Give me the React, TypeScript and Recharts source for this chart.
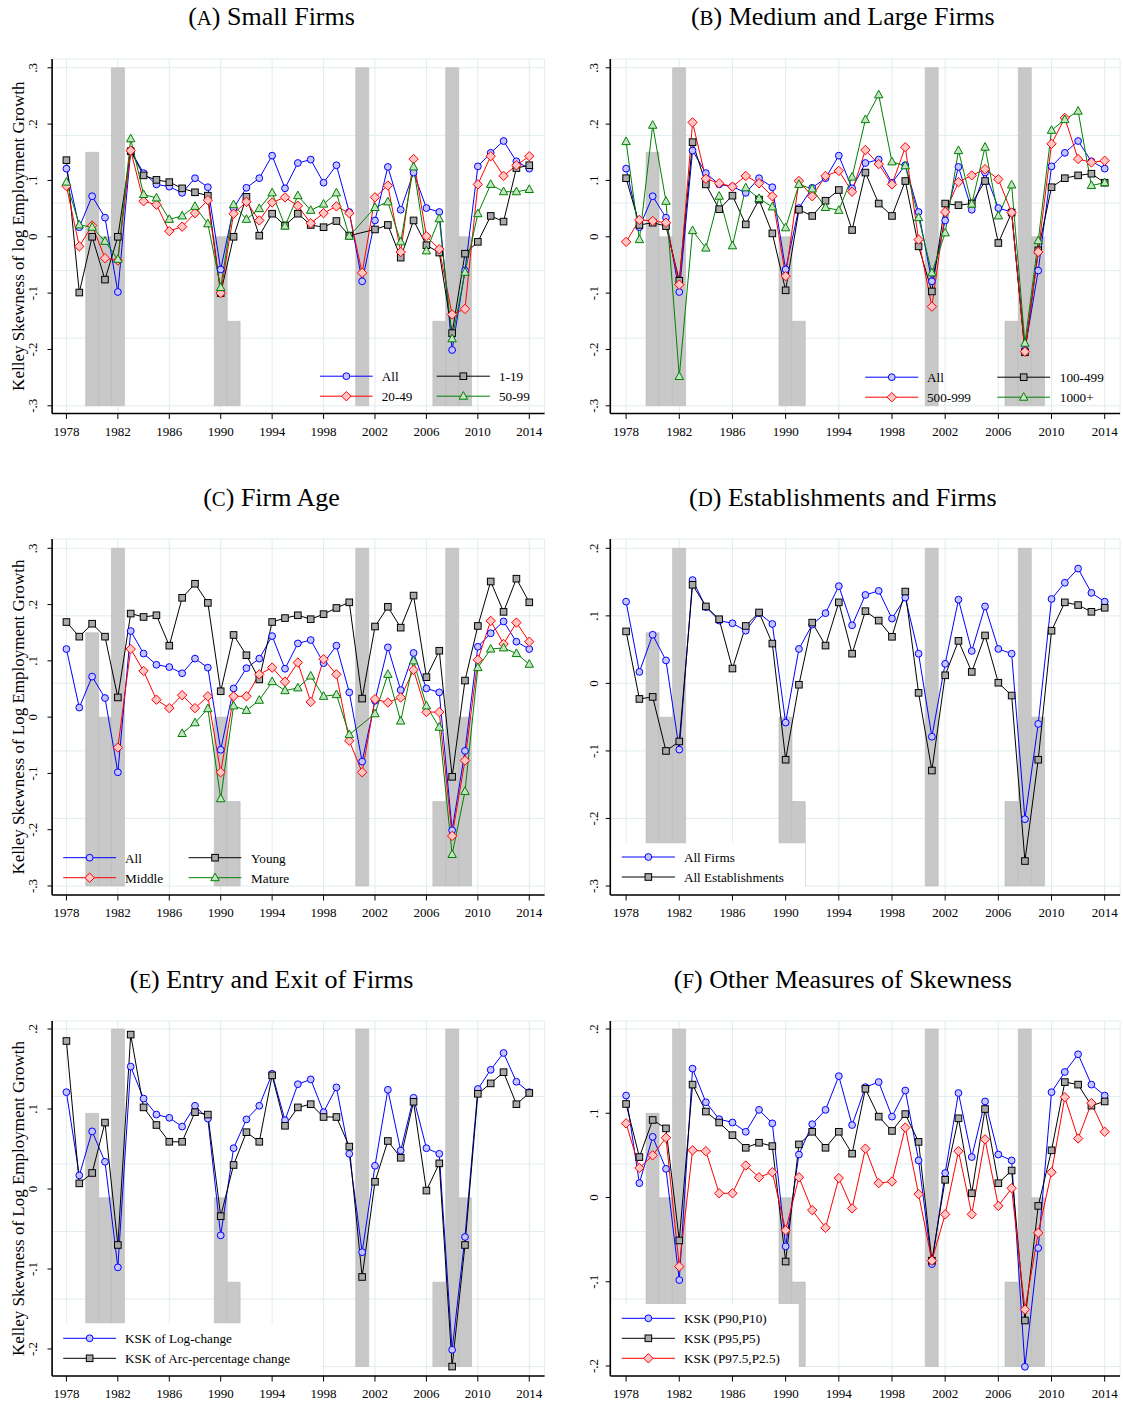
import React from 'react';
import { ComposedChart, Line, Bar, XAxis, YAxis, CartesianGrid, Legend } from 'recharts';

const FONT = '"Liberation Serif", "Times New Roman", Times, serif';

const YEARS = [1978, 1979, 1980, 1981, 1982, 1983, 1984, 1985, 1986, 1987, 1988, 1989, 1990, 1991, 1992, 1993, 1994, 1995, 1996, 1997, 1998, 1999, 2000, 2001, 2002, 2003, 2004, 2005, 2006, 2007, 2008, 2009, 2010, 2011, 2012, 2013, 2014];

// share of each year in recession (drawn as grey bars)
const RECESSION = [0, 0, 0.75, 0.5, 1, 0, 0, 0, 0, 0, 0, 0, 0.5, 0.25, 0, 0, 0, 0, 0, 0, 0, 0, 0, 1, 0, 0, 0, 0, 0, 0.25, 1, 0.5, 0, 0, 0, 0, 0];

const ALL = [0.121, 0.017, 0.072, 0.034, -0.098, 0.153, 0.113, 0.093, 0.089, 0.078, 0.104, 0.088, -0.058, 0.051, 0.087, 0.104, 0.144, 0.086, 0.131, 0.137, 0.096, 0.127, 0.044, -0.079, 0.029, 0.124, 0.048, 0.114, 0.051, 0.044, -0.201, -0.06, 0.125, 0.149, 0.170, 0.134, 0.121];
const SIZE_1_19 = [0.136, -0.099, 0, -0.076, 0, 0.152, 0.109, 0.101, 0.097, 0.086, 0.079, 0.073, -0.1, 0, 0.071, 0.002, 0.041, 0.02, 0.041, 0.021, 0.017, 0.028, 0.002, null, 0.013, 0.021, -0.037, 0.029, -0.015, -0.028, -0.171, -0.03, -0.009, 0.037, 0.027, 0.122, 0.127];
const SIZE_20_49 = [0.09, -0.017, 0.02, -0.038, -0.042, 0.153, 0.063, 0.057, 0.01, 0.018, 0.042, 0.065, -0.1, 0.041, 0.062, 0.029, 0.061, 0.07, 0.055, 0.024, 0.042, 0.054, 0.042, -0.064, 0.07, 0.091, -0.027, 0.138, 0.001, -0.022, -0.138, -0.128, 0.093, 0.143, 0.108, 0.127, 0.143];
const SIZE_50_99 = [0.097, 0.021, 0.017, -0.008, -0.04, 0.174, 0.075, 0.069, 0.031, 0.037, 0.054, 0.023, -0.09, 0.057, 0.031, 0.05, 0.078, 0.019, 0.073, 0.047, 0.058, 0.078, 0.001, null, 0.052, 0.062, -0.009, 0.124, -0.025, 0.032, -0.181, -0.063, 0.041, 0.093, 0.08, 0.08, 0.084];
const SIZE_100_499 = [0.104, 0.021, 0.025, 0.019, -0.078, 0.168, 0.093, 0.049, 0.073, 0.022, 0.066, 0.006, -0.095, 0.048, 0.037, 0.064, 0.083, 0.012, 0.114, 0.059, 0.037, 0.099, -0.017, -0.097, 0.059, 0.056, 0.059, 0.099, -0.011, 0.043, -0.205, -0.024, 0.088, 0.104, 0.109, 0.112, 0.096];
const SIZE_500_999 = [-0.009, 0.03, 0.028, 0.025, -0.085, 0.203, 0.103, 0.095, 0.089, 0.108, 0.095, 0.072, -0.07, 0.099, 0.072, 0.108, 0.117, 0.08, 0.154, 0.129, 0.093, 0.159, -0.005, -0.124, 0.044, 0.097, 0.109, 0.12, 0.102, 0.043, -0.204, -0.027, 0.165, 0.211, 0.138, 0.132, 0.135];
const SIZE_1000 = [0.169, -0.005, 0.198, 0.063, -0.248, 0.011, -0.02, 0.072, -0.016, 0.087, 0.068, 0.053, 0.016, 0.093, 0.085, 0.052, 0.047, 0.106, 0.208, 0.252, 0.133, 0.126, 0.034, -0.064, 0.007, 0.153, 0.058, 0.159, 0.037, 0.092, -0.189, -0.007, 0.189, 0.208, 0.223, 0.091, 0.096];
const YOUNG = [0.169, 0.143, 0.166, 0.143, 0.035, 0.184, 0.178, 0.181, 0.127, 0.212, 0.237, 0.203, 0.046, 0.146, 0.11, 0.067, 0.169, 0.176, 0.181, 0.174, 0.183, 0.194, 0.204, 0.033, 0.161, 0.196, 0.159, 0.216, 0.071, 0.118, -0.106, 0.065, 0.162, 0.241, 0.187, 0.246, 0.204];
const MIDDLE = [null, null, null, null, -0.054, 0.121, 0.082, 0.031, 0.016, 0.039, 0.016, 0.037, -0.098, 0.037, 0.037, 0.076, 0.088, 0.063, 0.097, 0.027, 0.103, 0.076, -0.042, -0.098, 0.032, 0.026, 0.035, 0.084, 0.009, 0.009, -0.211, -0.077, 0.102, 0.171, 0.13, 0.168, 0.134];
const MATURE = [null, null, null, null, null, null, null, null, null, -0.029, -0.01, 0.015, -0.145, 0.02, 0.012, 0.03, 0.063, 0.047, 0.052, 0.073, 0.037, 0.04, -0.031, null, 0.006, 0.076, -0.007, 0.1, 0.02, -0.018, -0.244, -0.132, 0.088, 0.121, 0.123, 0.113, 0.094];
const ESTAB = [0.077, -0.023, -0.02, -0.1, -0.086, 0.146, 0.114, 0.095, 0.022, 0.085, 0.105, 0.059, -0.113, -0.002, 0.09, 0.056, 0.12, 0.044, 0.107, 0.093, 0.069, 0.136, -0.014, -0.129, 0.012, 0.063, 0.017, 0.071, 0.001, -0.018, -0.263, -0.113, 0.078, 0.12, 0.116, 0.106, 0.112];
const ARC = [0.185, 0.007, 0.02, 0.083, -0.07, 0.193, 0.102, 0.08, 0.059, 0.059, 0.096, 0.093, -0.034, 0.03, 0.071, 0.059, 0.142, 0.079, 0.102, 0.106, 0.09, 0.09, 0.053, -0.11, 0.009, 0.06, 0.039, 0.109, -0.002, 0.032, -0.222, -0.07, 0.119, 0.132, 0.146, 0.106, 0.12];
const P95 = [0.111, 0.048, 0.092, 0.082, -0.051, 0.134, 0.102, 0.089, 0.074, 0.059, 0.065, 0.061, -0.076, 0.063, 0.078, 0.059, 0.078, 0.052, 0.129, 0.096, 0.079, 0.099, 0.066, -0.075, 0.021, 0.094, 0.005, 0.105, 0.017, 0.032, -0.146, -0.01, 0.056, 0.137, 0.134, 0.109, 0.114];
const P975 = [0.088, 0.035, 0.05, 0.071, -0.082, 0.056, 0.055, 0.005, 0.005, 0.038, 0.024, 0.03, -0.039, 0.024, -0.015, -0.036, 0.023, -0.013, 0.058, 0.017, 0.019, 0.083, 0.004, -0.075, -0.02, 0.055, -0.02, 0.069, -0.01, 0.011, -0.133, -0.042, 0.03, 0.119, 0.07, 0.112, 0.078];

const TICKS_3 = [-0.3, -0.2, -0.1, 0, 0.1, 0.2, 0.3];
const TICKS_D = [-0.3, -0.2, -0.1, 0, 0.1, 0.2];
const TICKS_2 = [-0.2, -0.1, 0, 0.1, 0.2];
const REC_TICKS = [0, 0.2, 0.4, 0.6, 0.8, 1];

type Shape = 'circle' | 'diamond' | 'square' | 'triangle';
const STYLE: Record<string, { color: string; fill: string; shape: Shape }> = {
  blue: { color: '#0000ff', fill: '#c4c4ff', shape: 'circle' },
  black: { color: '#000000', fill: '#a9a9a9', shape: 'square' },
  red: { color: '#ff0000', fill: '#ffc4c4', shape: 'diamond' },
  green: { color: '#008000', fill: '#c4e2c4', shape: 'triangle' },
};

type Series = { key: string; name: string; values: (number | null)[]; style: string };

const mk = (key: string, name: string, values: (number | null)[], style: string): Series => ({ key, name, values, style });

const LEFT = { chartLeft: 0, width: 560, yAxisWidth: 52.1, marginRight: 15.4, padX: { left: 7.9, right: 8.9 }, yTickMargin: 10, titleX: 271.5 };
const RIGHT = { chartLeft: 560, width: 563, yAxisWidth: 50.3, marginRight: 2.9, padX: { left: 9.15, right: 8.75 }, yTickMargin: 8, titleX: 842.8 };
const ROWS = [
  { plotTop: 58.5, plotH: 354.5, titleBase: 25.5 },
  { plotTop: 539, plotH: 356, titleBase: 506.5 },
  { plotTop: 1021, plotH: 355, titleBase: 988.3 },
];

const PANELS = [
  {
    letter: 'A', title: 'Small Firms', side: LEFT, row: ROWS[0], yLabel: 'Kelley Skewness of log Employment Growth',
    domain: [-0.3137, 0.3156], ticks: TICKS_3, rec: [-0.3, 0.3],
    series: [mk('all', 'All', ALL, 'blue'), mk('s1', '1-19', SIZE_1_19, 'black'), mk('s20', '20-49', SIZE_20_49, 'red'), mk('s50', '50-99', SIZE_50_99, 'green')],
    legend: { cols: [{ l: 320, r: 372.7, t: 381.7 }, { l: 436.7, r: 490, t: 499 }], rows: [375.7, 395.7], box: null as null | number[] },
  },
  {
    letter: 'B', title: 'Medium and Large Firms', side: RIGHT, row: ROWS[0], yLabel: null,
    domain: [-0.3137, 0.3156], ticks: TICKS_3, rec: [-0.3, 0.3],
    series: [mk('all', 'All', ALL, 'blue'), mk('s100', '100-499', SIZE_100_499, 'black'), mk('s500', '500-999', SIZE_500_999, 'red'), mk('s1000', '1000+', SIZE_1000, 'green')],
    legend: { cols: [{ l: 865.2, r: 918.3, t: 927 }, { l: 997.3, r: 1050.1, t: 1059.8 }], rows: [376.7, 396.7], box: null as null | number[] },
  },
  {
    letter: 'C', title: 'Firm Age', side: LEFT, row: ROWS[1], yLabel: 'Kelley Skewness of Log Employment Growth',
    domain: [-0.316, 0.3165], ticks: TICKS_3, rec: [-0.3, 0.3],
    series: [mk('all', 'All', ALL, 'blue'), mk('young', 'Young', YOUNG, 'black'), mk('middle', 'Middle', MIDDLE, 'red'), mk('mature', 'Mature', MATURE, 'green')],
    legend: { cols: [{ l: 63.2, r: 116.1, t: 125 }, { l: 188.6, r: 241.4, t: 251.1 }], rows: [857.7, 877.7], box: null as null | number[] },
  },
  {
    letter: 'D', title: 'Establishments and Firms', side: RIGHT, row: ROWS[1], yLabel: null,
    domain: [-0.3133, 0.2138], ticks: TICKS_D, rec: [-0.3, 0.2],
    series: [mk('all', 'All Firms', ALL, 'blue'), mk('estab', 'All Establishments', ESTAB, 'black')],
    legend: { cols: [{ l: 621.8, r: 674.9, t: 683.9 }], rows: [857, 877], box: [611.8, 843.3, 805.2, 894] },
  },
  {
    letter: 'E', title: 'Entry and Exit of Firms', side: LEFT, row: ROWS[2], yLabel: 'Kelley Skewness of Log Employment Growth',
    domain: [-0.2338, 0.21], ticks: TICKS_2, rec: [-0.222, 0.2],
    series: [mk('all', 'KSK of Log-change', ALL, 'blue'), mk('arc', 'KSK of Arc-percentage change', ARC, 'black')],
    legend: { cols: [{ l: 63.2, r: 116.1, t: 125 }], rows: [1338.3, 1358.3], box: [53, 1323.3, 321.4, 1375] },
  },
  {
    letter: 'F', title: 'Other Measures of Skewness', side: RIGHT, row: ROWS[2], yLabel: null,
    domain: [-0.2119, 0.2095], ticks: TICKS_2, rec: [-0.2006, 0.2],
    series: [mk('all', 'KSK (P90,P10)', ALL, 'blue'), mk('p95', 'KSK (P95,P5)', P95, 'black'), mk('p975', 'KSK (P97.5,P2.5)', P975, 'red')],
    legend: { cols: [{ l: 621.8, r: 674.9, t: 683.9 }], rows: [1318.3, 1338.3, 1358.3], box: [611.8, 1304, 798.8, 1375] },
  },
];

const fmtTick = (v: number) => {
  const t = Math.round(v * 10);
  if (t === 0) return '0';
  return (t < 0 ? '-' : '') + '.' + Math.abs(t);
};

function Marker({ shape, cx, cy, color, fill }: { shape: Shape; cx: number; cy: number; color: string; fill: string }) {
  const common = { fill, stroke: color, strokeWidth: 1 };
  if (shape === 'circle') return <circle cx={cx} cy={cy} r={3.4} {...common} />;
  if (shape === 'diamond') {
    const d = 4.7;
    return <polygon points={`${cx},${cy - d} ${cx + d},${cy} ${cx},${cy + d} ${cx - d},${cy}`} {...common} />;
  }
  if (shape === 'square') {
    const h = 3.3;
    return <rect x={cx - h} y={cy - h} width={2 * h} height={2 * h} {...common} />;
  }
  const s = 4.2;
  return <polygon points={`${cx},${cy - s * 1.1} ${cx + s},${cy + s * 0.72} ${cx - s},${cy + s * 0.72}`} {...common} />;
}

function YTick(props: any) {
  const { x, y, payload } = props;
  return (
    <text x={x} y={y} transform={`rotate(-90 ${x} ${y})`} textAnchor="middle" fontSize={13} fontFamily={FONT} fill="#000">
      {fmtTick(payload.value)}
    </text>
  );
}

function Panel({ p }: { p: (typeof PANELS)[number] }) {
  const side = p.side;
  const row = p.row;
  const chartTop = row.plotTop - 10;
  const chartH = 10 + row.plotH + 30 + 5;
  const data = YEARS.map((year, i) => {
    const r: any = { year, rec: RECESSION[i] > 0 ? [0, RECESSION[i]] : null };
    p.series.forEach((s) => {
      r[s.key] = s.values[i];
    });
    return r;
  });
  const [dmin, dmax] = p.domain;
  const [lo, hi] = p.rec;
  const recDomain = [(dmin - lo) / (hi - lo), (dmax - lo) / (hi - lo)];

  const legendContent = () => {
    const ox = side.chartLeft;
    const oy = chartTop;
    const ncol = p.legend.cols.length;
    const box = p.legend.box;
    return (
      <svg width={side.width} height={chartH} style={{ display: 'block', pointerEvents: 'none' }}>
        {box && <rect x={box[0] - ox} y={box[1] - oy} width={box[2] - box[0]} height={box[3] - box[1]} fill="#ffffff" />}
        {p.series.map((s, i) => {
          const c = p.legend.cols[i % ncol];
          const ry = p.legend.rows[Math.floor(i / ncol)] - oy;
          const st = STYLE[s.style];
          return (
            <g key={s.key}>
              <line x1={c.l - ox} x2={c.r - ox} y1={ry} y2={ry} stroke={st.color} strokeWidth={1} />
              <Marker shape={st.shape} cx={(c.l + c.r) / 2 - ox} cy={ry} color={st.color} fill={st.fill} />
              <text x={c.t - ox} y={ry + 5} fontSize={13.2} fontFamily={FONT} fill="#000">
                {s.name}
              </text>
            </g>
          );
        })}
      </svg>
    );
  };

  const yLabelContent = (lp: any) => {
    const vb = lp.viewBox || { x: 0, y: 0, width: 0, height: 0 };
    const cx = vb.x + 24;
    const cy = vb.y + vb.height / 2;
    return (
      <text x={cx} y={cy} transform={`rotate(-90 ${cx} ${cy})`} textAnchor="middle" fontSize={17} fontFamily={FONT} fill="#000">
        {p.yLabel}
      </text>
    );
  };

  return (
    <>
      <div
        style={{
          position: 'absolute',
          left: side.titleX - 300,
          width: 600,
          top: row.titleBase - 21.8,
          textAlign: 'center',
          fontFamily: FONT,
          fontSize: 26,
          lineHeight: '26px',
          color: '#000',
          whiteSpace: 'nowrap',
        }}
      >
        (<span style={{ fontSize: '0.8em' }}>{p.letter}</span>) {p.title}
      </div>
      <div style={{ position: 'absolute', left: side.chartLeft, top: chartTop }}>
        <ComposedChart
          width={side.width}
          height={chartH}
          data={data}
          margin={{ top: 10, right: side.marginRight, bottom: 5, left: 0 }}
          barCategoryGap={0}
          barGap={0}
        >
          <CartesianGrid yAxisId="rec" stroke="#e2ecef" strokeWidth={1} />
          <XAxis
            dataKey="year"
            interval={3}
            height={30}
            padding={side.padX}
            tickSize={5.5}
            tickMargin={7.5}
            tick={{ fontSize: 13, fontFamily: FONT, fill: '#000' }}
            tickLine={{ stroke: '#000', strokeWidth: 1 }}
            axisLine={{ stroke: '#000', strokeWidth: 1.6 }}
          />
          <XAxis xAxisId="top" orientation="top" dataKey="year" height={0} tick={false} tickLine={false} axisLine={{ stroke: '#000', strokeWidth: 1.2 }} />
          <YAxis
            type="number"
            domain={p.domain}
            allowDataOverflow
            ticks={p.ticks}
            interval={0}
            width={side.yAxisWidth}
            tickSize={4.6}
            tickMargin={side.yTickMargin}
            tick={<YTick />}
            tickLine={{ stroke: '#000', strokeWidth: 1 }}
            axisLine={{ stroke: '#000', strokeWidth: 1.6 }}
            label={p.yLabel ? { content: yLabelContent } : undefined}
          />
          <YAxis yAxisId="rec" type="number" hide domain={recDomain} allowDataOverflow ticks={REC_TICKS} interval={0} />
          <YAxis yAxisId="right" orientation="right" type="number" width={0} domain={[0, 1]} tick={false} tickLine={false} axisLine={{ stroke: '#000', strokeWidth: 1.2 }} />
          <Bar yAxisId="rec" dataKey="rec" fill="#c8c8c8" stroke="#b8b8b8" strokeWidth={0.6} isAnimationActive={false} />
          {p.series.map((s) => {
            const st = STYLE[s.style];
            return (
              <Line
                key={s.key}
                dataKey={s.key}
                name={s.name}
                type="linear"
                stroke={st.color}
                strokeWidth={1}
                connectNulls
                activeDot={false}
                isAnimationActive={false}
                dot={(dp: any) => {
                  const k = `${s.key}-${dp.index}`;
                  if (dp.cx == null || dp.cy == null || dp.value == null) return <g key={k} />;
                  return (
                    <g key={k}>
                      <Marker shape={st.shape} cx={dp.cx} cy={dp.cy} color={st.color} fill={st.fill} />
                    </g>
                  );
                }}
              />
            );
          })}
          <Legend
            layout="horizontal"
            verticalAlign="middle"
            align="center"
            wrapperStyle={{ left: 0, top: 0, width: side.width, height: chartH, margin: 0, padding: 0, pointerEvents: 'none' }}
            content={legendContent}
          />
        </ComposedChart>
      </div>
    </>
  );
}

export default function App() {
  return (
    <div style={{ position: 'absolute', left: 0, top: 0, width: 1123, height: 1401, overflow: 'hidden', background: '#fff' }}>
      {PANELS.map((p) => (
        <Panel key={p.letter} p={p} />
      ))}
    </div>
  );
}
